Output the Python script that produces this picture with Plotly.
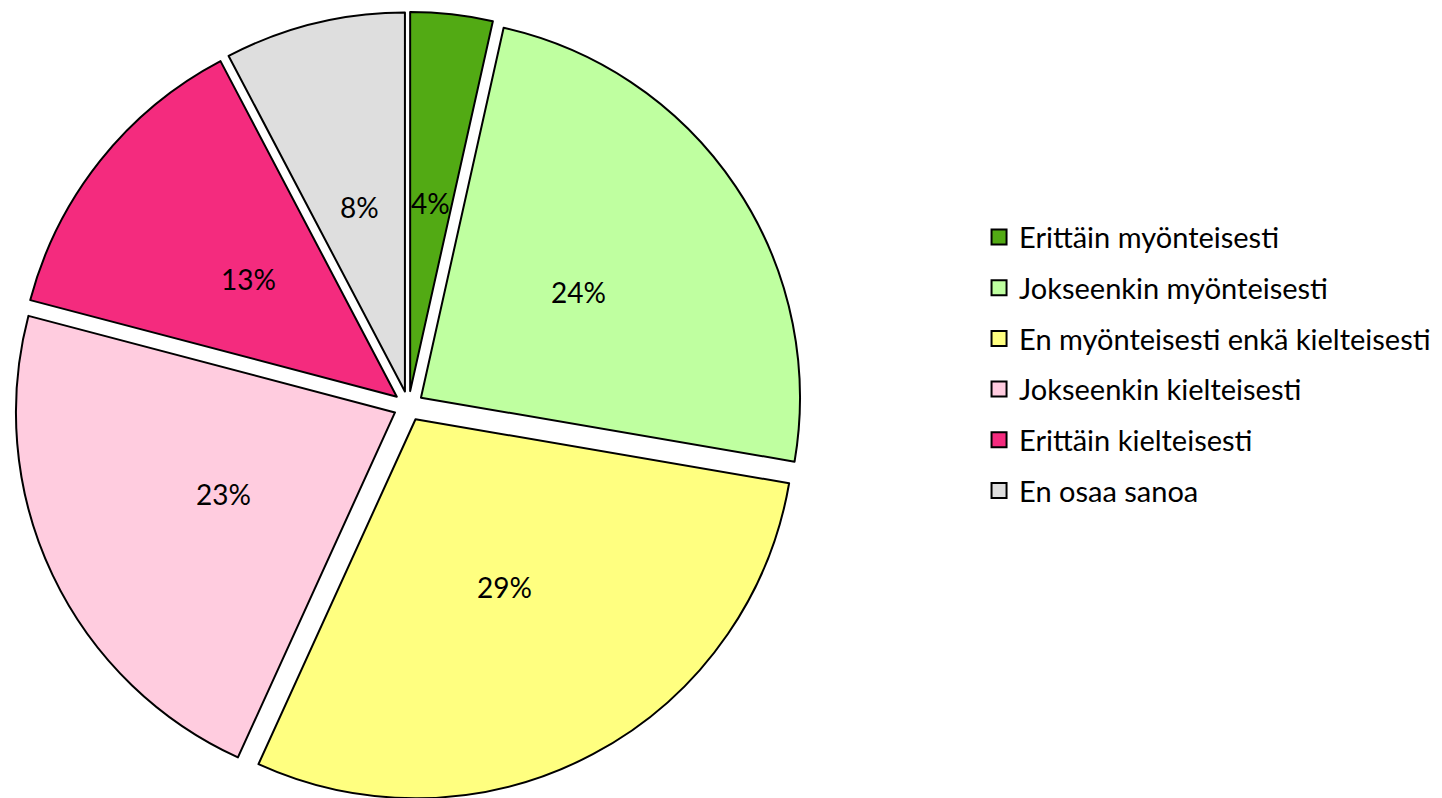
import math
import plotly.graph_objects as go

categories = [
    "Erittäin myönteisesti",
    "Jokseenkin myönteisesti",
    "En myönteisesti enkä kielteisesti",
    "Jokseenkin kielteisesti",
    "Erittäin kielteisesti",
    "En osaa sanoa",
]
values = [3.5, 24.2, 29.1, 22.3, 13.2, 7.7]
value_labels = ["4%", "24%", "29%", "23%", "13%", "8%"]
colors = ["#52AA14", "#BFFFA0", "#FFFF80", "#FFCCDF", "#F42B7E", "#DEDEDE"]

FONT = "Lato"
W, H = 1442, 798
PULL = 0.0395
DOM_X = [0.0045, 0.551]
DOM_Y = [0.0075, 0.995]

fig = go.Figure()
fig.add_trace(go.Pie(
    labels=categories,
    values=values,
    textinfo="none",
    marker=dict(colors=colors, line=dict(color="black", width=2)),
    sort=False,
    direction="clockwise",
    rotation=0,
    pull=PULL,
    showlegend=False,
    domain=dict(x=DOM_X, y=DOM_Y),
))

# percentage labels placed at about half radius along each slice's mid-angle
cx = (DOM_X[0] + DOM_X[1]) / 2 * W
cy = (1 - (DOM_Y[0] + DOM_Y[1]) / 2) * H
half = min((DOM_X[1] - DOM_X[0]) * W, (DOM_Y[1] - DOM_Y[0]) * H) / 2
R = half / (1 + PULL)
total = sum(values)
cum = 0.0
for v, lab in zip(values, value_labels):
    mid = (cum + v / 2) / total * 2 * math.pi
    cum += v
    d = 0.5 * R + PULL * R
    px = cx + d * math.sin(mid)
    py = cy - d * math.cos(mid)
    fig.add_annotation(
        x=px / W, y=1 - py / H, xref="paper", yref="paper",
        text=lab, showarrow=False,
        font=dict(family=FONT, size=28, color="black"),
        xanchor="center", yanchor="middle",
    )

for i, (cat, col) in enumerate(zip(categories, colors)):
    fig.add_trace(go.Scatter(
        x=[None], y=[None], mode="markers", name=cat,
        legendgroup=f"g{i}",
        marker=dict(symbol="square", size=15, color=col,
                    line=dict(color="black", width=2)),
    ))

fig.update_layout(
    width=W, height=H,
    margin=dict(l=0, r=0, t=0, b=0),
    paper_bgcolor="white", plot_bgcolor="white",
    xaxis=dict(visible=False), yaxis=dict(visible=False),
    legend=dict(
        x=0.6734, y=0.5537, xanchor="left", yanchor="middle",
        font=dict(family=FONT, size=29, color="black"),
        tracegroupgap=10,
        bgcolor="rgba(0,0,0,0)",
    ),
)

fig.write_html("out.html")
